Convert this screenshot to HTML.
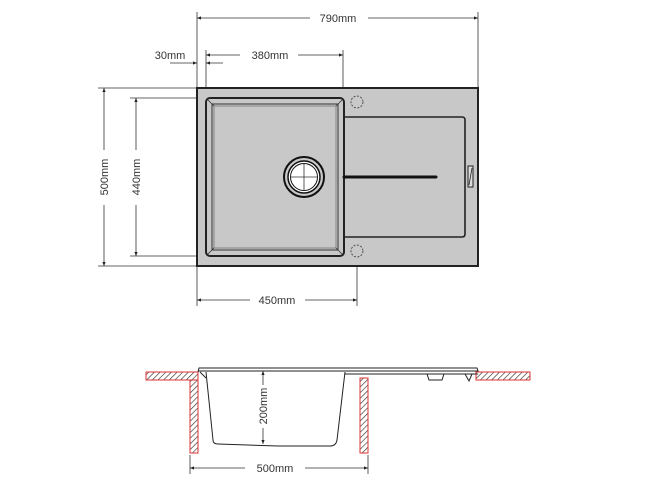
<!DOCTYPE html>
<html><head><meta charset="utf-8"><style>
html,body{margin:0;padding:0;background:#fff}
svg{display:block}
text{font-family:"Liberation Sans",sans-serif;font-size:11px;fill:#333}
</style></head><body>
<svg width="650" height="500" viewBox="0 0 650 500" xmlns="http://www.w3.org/2000/svg">
<defs>
<marker id="a" viewBox="0 0 10 10" refX="10" refY="5" markerWidth="7" markerHeight="5" orient="auto-start-reverse"><path d="M0,1 L10,5 L0,9 z" fill="#222"/></marker>
<pattern id="h" width="4" height="4" patternUnits="userSpaceOnUse" patternTransform="rotate(45)"><line x1="0" y1="0" x2="0" y2="4" stroke="#333" stroke-width="1.3"/></pattern>
</defs>
<g stroke="#333" stroke-width="0.8" fill="none">
<!-- extension lines -->
<line x1="197" y1="12" x2="197" y2="88"/><line x1="478" y1="12" x2="478" y2="88"/>
<line x1="206" y1="50" x2="206" y2="98"/><line x1="343" y1="50" x2="343" y2="98"/>
<line x1="98" y1="88" x2="197" y2="88"/><line x1="98" y1="266" x2="197" y2="266"/>
<line x1="130" y1="98" x2="206" y2="98"/><line x1="130" y1="256" x2="206" y2="256"/>
<line x1="197" y1="266" x2="197" y2="306"/><line x1="357" y1="240" x2="357" y2="306"/>
<!-- dims -->
<line x1="197" y1="18" x2="310" y2="18" marker-start="url(#a)"/><line x1="368" y1="18" x2="478" y2="18" marker-end="url(#a)"/>
<line x1="206" y1="55" x2="240" y2="55" marker-start="url(#a)"/><line x1="298" y1="55" x2="343" y2="55" marker-end="url(#a)"/>
<line x1="170" y1="63" x2="197" y2="63" marker-end="url(#a)"/><line x1="223" y1="63" x2="206" y2="63" marker-end="url(#a)"/>
<line x1="104" y1="88" x2="104" y2="150" marker-start="url(#a)"/><line x1="104" y1="205" x2="104" y2="266" marker-end="url(#a)"/>
<line x1="136" y1="98" x2="136" y2="150" marker-start="url(#a)"/><line x1="136" y1="205" x2="136" y2="256" marker-end="url(#a)"/>
<line x1="197" y1="300" x2="250" y2="300" marker-start="url(#a)"/><line x1="305" y1="300" x2="357" y2="300" marker-end="url(#a)"/>
</g>
<text x="338" y="22" text-anchor="middle">790mm</text>
<text x="270" y="59" text-anchor="middle">380mm</text>
<text x="170" y="59" text-anchor="middle">30mm</text>
<text x="277" y="304" text-anchor="middle">450mm</text>
<text transform="translate(108,177) rotate(-90)" text-anchor="middle">500mm</text>
<text transform="translate(140,177) rotate(-90)" text-anchor="middle">440mm</text>
<!-- sink top view -->
<rect x="197" y="88" width="281" height="178" fill="#c8c8c8" stroke="#222" stroke-width="2"/>
<rect x="206" y="98" width="138" height="158" rx="4" fill="#c8c8c8" stroke="#222" stroke-width="2"/>
<rect x="212" y="104" width="126" height="146" fill="none" stroke="#333" stroke-width="1"/>
<rect x="214" y="106" width="122" height="142" fill="none" stroke="#555" stroke-width="0.6"/>
<g stroke="#333" stroke-width="0.8">
<line x1="208" y1="100" x2="214" y2="106"/><line x1="342" y1="100" x2="336" y2="106"/>
<line x1="208" y1="254" x2="214" y2="248"/><line x1="342" y1="254" x2="336" y2="248"/>
</g>
<path d="M344,117 H462 Q465,117 465,120 V234 Q465,237 462,237 H344" fill="none" stroke="#222" stroke-width="1.6"/>
<line x1="344" y1="177" x2="436" y2="177" stroke="#111" stroke-width="3" stroke-linecap="round"/>
<rect x="468" y="166" width="5" height="21" fill="#ddd" stroke="#222" stroke-width="1"/>
<line x1="469" y1="185" x2="472" y2="168" stroke="#222" stroke-width="0.8"/>
<circle cx="304" cy="177" r="20" fill="#c8c8c8" stroke="#111" stroke-width="2"/>
<circle cx="304" cy="177" r="16" fill="#fff" stroke="#111" stroke-width="1.5"/>
<circle cx="304" cy="177" r="13.5" fill="none" stroke="#111" stroke-width="1"/>
<line x1="290" y1="177" x2="318" y2="177" stroke="#333" stroke-width="0.8"/>
<line x1="304" y1="163" x2="304" y2="191" stroke="#333" stroke-width="0.8"/>
<circle cx="357" cy="102" r="6" fill="none" stroke="#333" stroke-width="0.8" stroke-dasharray="2,1.5"/>
<circle cx="357" cy="251" r="6" fill="none" stroke="#333" stroke-width="0.8" stroke-dasharray="2,1.5"/>
<!-- side view -->
<rect x="146" y="372" width="52" height="8" fill="url(#h)" stroke="#d33" stroke-width="1"/>
<rect x="190" y="380" width="8" height="73" fill="url(#h)" stroke="#d33" stroke-width="1"/>
<rect x="476" y="372" width="54" height="8" fill="url(#h)" stroke="#d33" stroke-width="1"/>
<rect x="360" y="378" width="8" height="75" fill="url(#h)" stroke="#d33" stroke-width="1"/>
<g fill="none" stroke="#222" stroke-width="1">
<path d="M198,372 L199,368 H477 L478,371 L198,371"/>
<path d="M206,372 L213,440 Q213,444 218,444 L278,446 L330,446 Q336,446 337,440 L345,372"/>
<line x1="200" y1="372" x2="206" y2="378" />
<line x1="345" y1="374" x2="478" y2="374"/>
<path d="M427,374 L429,380 H442 L444,374"/>
<path d="M465,374 L469,381 L472,374"/>
</g>
<g stroke="#333" stroke-width="0.8" fill="none">
<line x1="263" y1="371" x2="263" y2="385" marker-start="url(#a)"/><line x1="263" y1="428" x2="263" y2="444" marker-end="url(#a)"/>
<line x1="190" y1="455" x2="190" y2="474"/><line x1="368" y1="455" x2="368" y2="474"/>
<line x1="190" y1="468" x2="245" y2="468" marker-start="url(#a)"/><line x1="305" y1="468" x2="368" y2="468" marker-end="url(#a)"/>
</g>
<text transform="translate(267,406) rotate(-90)" text-anchor="middle">200mm</text>
<text x="275" y="472" text-anchor="middle">500mm</text>
</svg>
</body></html>
